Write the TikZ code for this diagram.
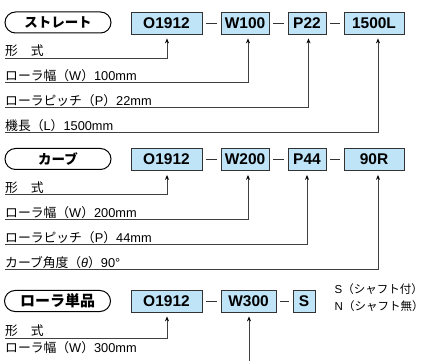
\documentclass[tikz,border=0pt]{standalone}
\usepackage{fontspec}
\setmainfont{Liberation Sans}
\newfontfamily\cjk{Noto Sans CJK JP}
\newcommand\jp[1]{{\cjk #1}}
\usetikzlibrary{arrows.meta}
\definecolor{boxblue}{HTML}{BFE3F7}
\begin{document}
\begin{tikzpicture}[x=1pt,y=-1pt,
  code/.style={draw=black!80, line width=0.8pt, fill=boxblue, minimum height=22pt, inner sep=0pt, font=\fontsize{15.5}{15.5}\selectfont\bfseries},
  pill/.style={draw=black, line width=1pt, rounded corners=10.5pt, minimum height=21pt, minimum width=106pt, inner sep=0pt, font=\cjk\bfseries\fontsize{13.5}{14}\selectfont},
  lab/.style={anchor=base west, inner sep=0pt, font=\fontsize{12.8}{13}\selectfont},
  sep/.style={draw=black!80, line width=0.8pt, shorten <=3.5pt, shorten >=3.5pt},
  conn/.style={draw=black!75, line width=1pt, -{Stealth[length=5pt,width=4pt,color=black]}, shorten >=4pt},
  note/.style={anchor=west, inner sep=0pt, font=\fontsize{11.5}{12}\selectfont}
]
\useasboundingbox (0,0) rectangle (424,361);

% ---------- Row 1 ----------
\node[pill] (p1) at (58,22.5) {ストレート};
\node[code, minimum width=71pt] (a1) at (166.5,23) {O1912};
\node[code, minimum width=48pt] (b1) at (245,23) {W100};
\node[code, minimum width=38pt] (c1) at (307,23) {P22};
\node[code, minimum width=60pt] (d1) at (374,23) {1500L};
\draw[sep] (a1) -- (b1);
\draw[sep] (b1) -- (c1);
\draw[sep] (c1) -- (d1);

\node[lab] (l11) at (5,56) {\jp{形　式}};
\node[lab] (l12) at (5,80.5) {\jp{ローラ幅（}W\jp{）}100mm};
\node[lab] (l13) at (5,105.5) {\jp{ローラピッチ（}P\jp{）}22mm};
\node[lab] (l14) at (5,130.5) {\jp{機長（}L\jp{）}1500mm};
\coordinate (s11) at (5,58.5);
\coordinate (s12) at (5,83);
\coordinate (s13) at (5,108);
\coordinate (s14) at (5,133);
\draw[conn] (s11) -| ([xshift=0.5pt]a1.south);
\draw[conn] (s12) -| ([xshift=3pt]b1.south);
\draw[conn] (s13) -| ([xshift=1.5pt]c1.south);
\draw[conn] (s14) -| ([xshift=4pt]d1.south);

% ---------- Row 2 ----------
\node[pill] (p2) at (58,159) {カーブ};
\node[code, minimum width=71pt] (a2) at (166.5,159.5) {O1912};
\node[code, minimum width=48pt] (b2) at (245,159.5) {W200};
\node[code, minimum width=38pt] (c2) at (307,159.5) {P44};
\node[code, minimum width=60pt] (d2) at (374,159.5) {90R};
\draw[sep] (a2) -- (b2);
\draw[sep] (b2) -- (c2);
\draw[sep] (c2) -- (d2);

\node[lab] (l21) at (5,192.5) {\jp{形　式}};
\node[lab] (l22) at (5,217.5) {\jp{ローラ幅（}W\jp{）}200mm};
\node[lab] (l23) at (5,242.5) {\jp{ローラピッチ（}P\jp{）}44mm};
\node[lab] (l24) at (5,267.5) {\jp{カーブ角度（}\textit{θ}\jp{）}90°};
\coordinate (s21) at (5,195);
\coordinate (s22) at (5,220);
\coordinate (s23) at (5,245);
\coordinate (s24) at (5,270);
\draw[conn] (s21) -| ([xshift=0.5pt]a2.south);
\draw[conn] (s22) -| ([xshift=3pt]b2.south);
\draw[conn] (s23) -| ([xshift=0pt]c2.south);
\draw[conn] (s24) -| ([xshift=4pt]d2.south);

% ---------- Row 3 ----------
\node[pill, font=\cjk\bfseries\fontsize{15}{15}\selectfont] (p3) at (57.5,301) {ローラ単品};
\node[code, minimum width=71pt] (a3) at (166.5,301) {O1912};
\node[code, minimum width=55pt] (b3) at (248.5,301) {W300};
\node[code, minimum width=22pt] (c3) at (304,301) {S};
\draw[sep] (a3) -- (b3);
\draw[sep] (b3) -- (c3);
\node[note] (n1) at (334.5,289.5) {S\jp{（シャフト付）}};
\node[note] (n2) at (334.5,306.5) {N\jp{（シャフト無）}};

\node[lab] (l31) at (5,335.5) {\jp{形　式}};
\node[lab] (l32) at (5,352.5) {\jp{ローラ幅（}W\jp{）}300mm};
\coordinate (s31) at (5,338);
\coordinate (s32) at (249,365);
\draw[conn] (s31) -| ([xshift=0.5pt]a3.south);
\draw[conn] (s32) -- (s32 |- b3.south);
\end{tikzpicture}
\end{document}
